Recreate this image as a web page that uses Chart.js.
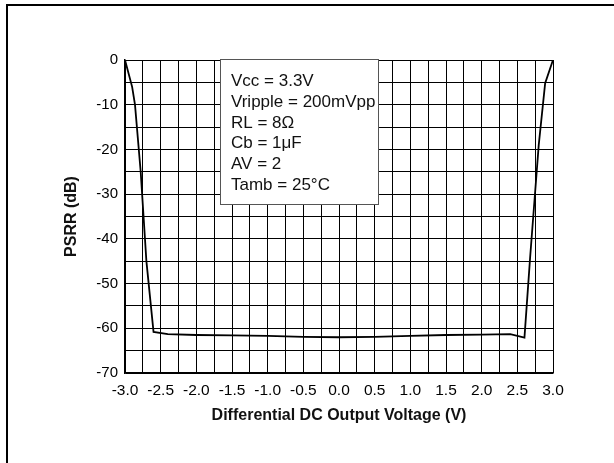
<!DOCTYPE html>
<html>
<head>
<meta charset="utf-8">
<script src="https://cdn.jsdelivr.net/npm/chart.js@4.4.1/dist/chart.umd.min.js"></script>
<style>
  html, body { margin: 0; padding: 0; background: #fff; }
  canvas { display: block; }
</style>
</head>
<body>
<canvas id="chart" width="614" height="463"></canvas>
<script>
// curve
const voltage = [-3.0, -2.9, -2.86, -2.78, -2.70, -2.6, -2.4, -2.0, -1.5, -1.0, -0.5, 0.0, 0.5, 1.0, 1.5, 2.0, 2.4, 2.6, 2.68, 2.8, 2.89, 3.0];
const psrr    = [0, -6, -10, -25, -45, -60.8, -61.3, -61.5, -61.6, -61.7, -61.9, -62.0, -61.9, -61.7, -61.5, -61.4, -61.3, -62.1, -44, -19, -5.2, 0];

const conditions = ['Vcc = 3.3V', 'Vripple = 200mVpp', 'RL = 8\u03A9', 'Cb = 1\u03BCF', 'AV = 2', 'Tamb = 25\u00B0C'];

const FONT = 'Arial, "Liberation Sans", sans-serif';

const framePlugin = {
    id: 'frame',
    beforeDraw(chart) {
        const ctx = chart.ctx;
        ctx.save();
        ctx.fillStyle = '#fff';
        ctx.fillRect(0, 0, chart.width, chart.height);
        ctx.strokeStyle = '#000';
        ctx.lineWidth = 2;
        ctx.beginPath();
        ctx.moveTo(7, 463);
        ctx.lineTo(7, 5);
        ctx.lineTo(614, 5);
        ctx.stroke();
        ctx.restore();
    },
    afterDraw(chart) {
        // conditions box
        const ctx = chart.ctx;
        ctx.save();
        ctx.fillStyle = '#fff';
        ctx.fillRect(220, 59, 158, 145);
        ctx.strokeStyle = '#555';
        ctx.lineWidth = 1;
        ctx.strokeRect(220.5, 59.5, 158, 145);
        ctx.fillStyle = '#111';
        ctx.font = '17px ' + FONT;
        ctx.textBaseline = 'alphabetic';
        conditions.forEach((t, i) => ctx.fillText(t, 231, 86 + i * 20.8));
        ctx.restore();
    }
};

new Chart(document.getElementById('chart'), {
    type: 'line',
    data: {
        datasets: [{
            data: voltage.map((v, i) => ({ x: v, y: psrr[i] })),
            borderColor: '#000',
            borderWidth: 1.8,
            pointRadius: 0,
            tension: 0,
            fill: false
        }]
    },
    options: {
        responsive: false,
        animation: false,
        events: [],
        layout: { padding: { left: 0, top: 60, right: 61, bottom: 0 } },
        plugins: {
            legend: { display: false },
            tooltip: { enabled: false }
        },
        scales: {
            x: {
                type: 'linear',
                min: -3, max: 3,
                afterFit: s => { s.height = 90; },
                grid: { color: '#000', lineWidth: 1, drawTicks: false },
                border: { color: '#000', width: 1.5 },
                ticks: {
                    stepSize: 0.25,
                    autoSkip: false,
                    maxRotation: 0,
                    padding: 8,
                    color: '#000',
                    font: { family: FONT, size: 15.5 },
                    callback: v => Math.abs(v * 2 - Math.round(v * 2)) < 1e-6 ? v.toFixed(1) : ''
                },
                title: {
                    display: true,
                    text: 'Differential DC Output Voltage (V)',
                    color: '#111',
                    font: { family: FONT, size: 16, weight: 'bold' },
                    padding: { top: 0, bottom: 38 }
                }
            },
            y: {
                min: -70, max: 0,
                afterFit: s => { s.width = 125; },
                grid: { color: '#000', lineWidth: 1, drawTicks: false },
                border: { color: '#000', width: 1.5 },
                ticks: {
                    stepSize: 5,
                    autoSkip: false,
                    padding: 7,
                    color: '#000',
                    font: { family: FONT, size: 15 },
                    callback: v => v % 10 === 0 ? String(v) : ''
                },
                title: {
                    display: true,
                    text: 'PSRR (dB)',
                    color: '#111',
                    font: { family: FONT, size: 16, weight: 'bold' },
                    padding: { top: 62, bottom: 0 }
                }
            }
        }
    },
    plugins: [framePlugin]
});
</script>
</body>
</html>
